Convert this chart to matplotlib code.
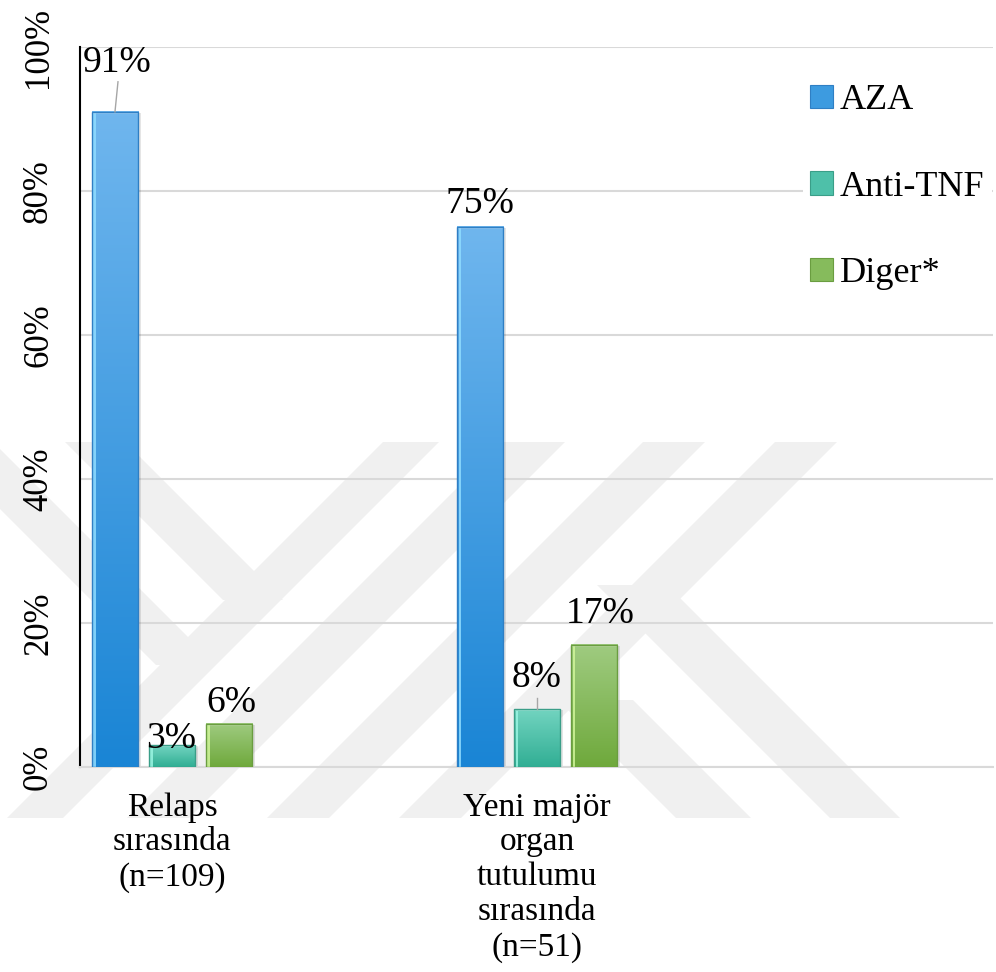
import numpy as np
import matplotlib
matplotlib.use("Agg")
import matplotlib.pyplot as plt
from matplotlib.patches import Rectangle, Polygon, Patch
from matplotlib.colors import to_rgb
from matplotlib.ticker import FuncFormatter

plt.rcParams['font.family'] = ['Liberation Serif', 'DejaVu Serif']

categories = ["Relaps\nsırasında\n(n=109)",
              "Yeni majör\norgan\ntutulumu\nsırasında\n(n=51)"]
series = ["AZA", "Anti-TNF", "Diger*"]
aza = [91, 75]
anti_tnf = [3, 8]
diger = [6, 17]
values = [aza, anti_tnf, diger]

# (top colour, bottom colour, left highlight, edge)
bar_styles = [
    ("#6fb6ee", "#1a85d5", "#8fdcff", "#2f7fc4"),
    ("#72d4c0", "#31ae94", "#9af5e2", "#3a9e88"),
    ("#9fcb80", "#6fa93c", "#d0f59a", "#6a9d40"),
]
legend_face = ["#3d9be0", "#4ec0a9", "#86bb5c"]

# label offsets in pixels (dx, dy above bar top), leader line length or 0
label_offsets = {
    (0, 0): (2, 40, 30), (0, 1): (0, 14, 0),
    (1, 0): (-1, -3, 0), (1, 1): (0, 22, 11),
    (2, 0): (2, 12, 0), (2, 1): (6, 22, 0),
}

W, H = 996, 972
fig = plt.figure(figsize=(W / 100, H / 100), dpi=100)
ax = fig.add_axes([80 / W, 1 - 767 / H, (993 - 80) / W, (767 - 47) / H])
ax.patch.set_alpha(0)

# faint background emblem made of diagonal bands (pixel coords, y down)
def band(x0, width, y0, y1, d):
    ytop = 442
    xs0 = x0 + d * (y0 - ytop)
    xs1 = x0 + d * (y1 - ytop)
    pts = [(xs0, y0), (xs0 + width, y0), (xs1 + width, y1), (xs1, y1)]
    pts = [(px / W, 1 - py / H) for px, py in pts]
    fig.add_artist(Polygon(pts, closed=True, transform=fig.transFigure,
                           facecolor="#f0f0f0", edgecolor="none", zorder=-5))

band(383, 56, 442, 818, -1)
band(503, 62, 442, 818, -1)
band(643, 62, 442, 818, -1)
band(775, 62, 442, 818, -1)
band(65, 60, 442, 600, 1)
band(-67, 60, 442, 665, 1)
band(454, 70, 585, 818, 1)
band(300, 75, 700, 818, 1)

x = np.arange(len(categories))
px_x = 1 / 365.0
px_y = 100 / 720.0
width = 46 * px_x
step = 57 * px_x

for i, vals in enumerate(values):
    top_c, bot_c, hi_c, edge_c = bar_styles[i]
    grad = np.linspace(np.array(to_rgb(top_c)), np.array(to_rgb(bot_c)), 64)
    grad = grad.reshape(64, 1, 3)
    for j, v in enumerate(vals):
        xc = x[j] + (i - 1) * step
        x0 = xc - width / 2
        # soft shadow
        ax.add_patch(Rectangle((x0 + 3 * px_x, 0), width, v - 1 * px_y,
                               facecolor="#000000", alpha=0.10, lw=0, zorder=2))
        ax.imshow(grad, extent=[x0, x0 + width, 0, v], aspect="auto",
                  interpolation="bilinear", zorder=3)
        ax.add_patch(Rectangle((x0 + 1.5 * px_x, 0), 2.5 * px_x, v - 1.5 * px_y,
                               facecolor=hi_c, alpha=0.85, lw=0, zorder=4))
        ax.add_patch(Rectangle((x0, v - 2 * px_y), width, 1.5 * px_y,
                               facecolor="white", alpha=0.25, lw=0, zorder=4))
        ax.add_patch(Rectangle((x0, 0), width, v, facecolor="none",
                               edgecolor=edge_c, lw=1.0, zorder=5))
        dx, dy, lead = label_offsets[(i, j)]
        ax.annotate(f"{v}%", xy=(xc, v), xytext=(xc + dx * px_x, v + dy * px_y),
                    ha="center", va="baseline", fontsize=27, zorder=6)
        if lead:
            ax.plot([xc, xc + dx * px_x * 1.5], [v, v + lead * px_y],
                    color="#a6a6a6", lw=1.0, zorder=6)

ax.set_xlim(-0.252, 2.249)
ax.set_ylim(0, 100)
ax.set_yticks(np.arange(0, 101, 20))
ax.yaxis.set_major_formatter(FuncFormatter(lambda v, p: f"{v:.0f}%"))
ax.grid(axis="y", color="#d9d9d9", lw=1.5, zorder=0)
ax.set_axisbelow(True)
for lab in ax.get_yticklabels():
    lab.set_rotation(90)
    lab.set_va("center")
ax.tick_params(axis="y", length=0, labelsize=25, pad=18)
ax.set_xticks(x)
ax.set_xticklabels(categories, fontsize=24, linespacing=1.19)
ax.tick_params(axis="x", length=0, pad=18)

for s in ["top", "right"]:
    ax.spines[s].set_visible(False)
ax.spines["left"].set_color("black")
ax.spines["left"].set_linewidth(1.5)
ax.spines["bottom"].set_color("#d9d9d9")
ax.spines["bottom"].set_linewidth(1.5)

handles = [Patch(facecolor=legend_face[k], edgecolor=bar_styles[k][3], lw=0.8)
           for k in range(3)]
leg = ax.legend(handles, series, loc="upper left",
                bbox_to_anchor=(803 / W, 1 - 77 / H), bbox_transform=fig.transFigure,
                fontsize=26, frameon=True, fancybox=False, edgecolor="none",
                facecolor="white", framealpha=1, borderpad=0.2, borderaxespad=0,
                handlelength=0.62, handleheight=0.62, handletextpad=0.2,
                labelspacing=1.48)
leg.set_zorder(7)

fig.savefig("out.png", dpi=100, facecolor="white")
